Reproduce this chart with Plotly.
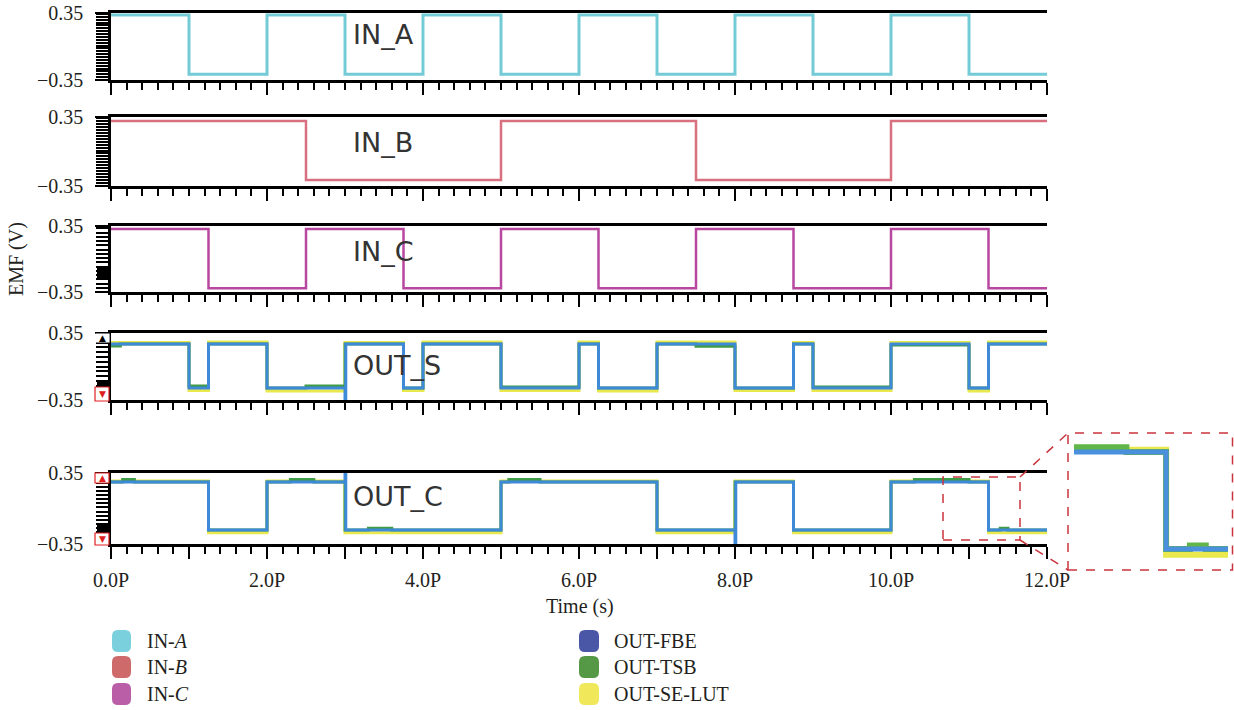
import plotly.graph_objects as go

W, H = 1234, 710

# ---------------- data (time in P units, voltage in V) ----------------
time_ticks = [0, 1, 2, 3, 4, 5, 6, 7, 8, 9, 10, 11, 12]
time_labels = ["0.0P", "", "2.0P", "", "4.0P", "", "6.0P", "", "8.0P", "", "10.0P", "", "12.0P"]

in_a_t = [0, 1, 2, 3, 4, 5, 6, 7, 8, 9, 10, 11, 12]
in_a_v = [0.33, -0.29, 0.33, -0.29, 0.33, -0.29, 0.33, -0.29, 0.33, -0.29, 0.33, -0.29]

in_b_t = [0, 2.5, 5, 7.5, 10, 12]
in_b_v = [0.31, -0.29, 0.31, -0.29, 0.31]

in_c_t = [0, 1.25, 2.5, 3.75, 5, 6.25, 7.5, 8.75, 10, 11.25, 12]
in_c_v = [0.318, -0.31, 0.318, -0.31, 0.318, -0.31, 0.318, -0.31, 0.318, -0.31]

# OUT_S
sum_lut_t = [0, 1, 1.25, 2, 3, 3.75, 4, 5, 6, 6.25, 7, 8, 8.75, 9, 10, 11, 11.25, 12]
sum_lut_v = [0.25, -0.25, 0.255, -0.255, 0.25, -0.25, 0.256, -0.25, 0.256, -0.256, 0.256, -0.25,
             0.25, -0.25, 0.25, -0.256, 0.256]
sum_tsb_t = [0, 0.12, 1, 1.25, 2, 2.5, 3, 3.75, 4, 5, 6, 6.25, 7, 7.5, 8, 8.75, 9, 10, 11, 11.25, 12]
sum_tsb_v = [0.215, 0.235, -0.205, 0.235, -0.225, -0.205, 0.235, -0.225, 0.235, -0.215, 0.235,
             -0.225, 0.235, 0.212, -0.225, 0.235, -0.215, 0.225, -0.225, 0.235]
sum_fbe_t = [0, 1, 1.25, 2, 3, 3.01, 3.75, 4, 5, 6, 6.25, 7, 8, 8.75, 9, 10, 11, 11.25, 12]
sum_fbe_v = [0.235, -0.225, 0.235, -0.225, -0.35, 0.235, -0.225, 0.235, -0.225, 0.235, -0.225,
             0.235, -0.225, 0.235, -0.225, 0.235, -0.225, 0.235]

# OUT_C
car_lut_t = [0, 1.25, 2, 3, 5, 7, 8, 8.75, 10, 11.25, 12]
car_lut_v = [0.272, -0.24, 0.272, -0.24, 0.272, -0.24, 0.272, -0.24, 0.272, -0.24]
car_tsb_t = [0, 0.15, 0.3, 1.25, 2, 2.3, 2.6, 3, 3.3, 3.6, 5, 5.1, 5.5, 7, 8, 8.75, 10, 10.3,
             11.0, 11.25, 11.4, 11.5, 12]
car_tsb_v = [0.261, 0.285, 0.261, -0.212, 0.261, 0.285, 0.261, -0.212, -0.195, -0.212, 0.261,
             0.285, 0.261, -0.212, 0.261, -0.212, 0.261, 0.285, 0.261, -0.212, -0.195, -0.212]
car_fbe_t = [0, 1.25, 2, 3, 3.01, 5, 7, 8, 8.01, 8.75, 10, 11.25, 12]
car_fbe_v = [0.261, -0.212, 0.261, 0.35, -0.212, 0.261, -0.212, -0.35, 0.261, -0.212, 0.261, -0.212]

panel_names = ["IN_A", "IN_B", "IN_C", "OUT_S", "OUT_C"]
legend_left = ["IN-<i>A</i>", "IN-<i>B</i>", "IN-<i>C</i>"]
legend_right = ["OUT-FBE", "OUT-TSB", "OUT-SE-LUT"]

# ---------------- styles ----------------
C_A, C_B, C_C = "#74cbd8", "#d8707f", "#b8479f"
C_FBE, C_TSB, C_LUT = "#3f8ad8", "#3f9b45", "#e9e84c"
LEG_LEFT_COL = ["#7ad0dc", "#cf6a6a", "#b95ea7"]
LEG_RIGHT_COL = ["#4a56a6", "#559845", "#f0e85a"]
SERIF = "Liberation Serif"
TXT = "#231f20"


def px(x):
    return x / W


def py(y):
    return 1 - y / H


def step(t, v):
    return list(t), list(v) + [v[-1]]


fig = go.Figure()

panels_px = [(13, 80), (117, 186), (226, 292), (333, 400), (473, 544)]
minor_dt = [0.03, 0.03, 0.045, 0.05, 0.04]


def add(t, v, color, width, idx, name):
    x, y = step(t, v)
    fig.add_trace(go.Scatter(x=x, y=y, mode="lines", line=dict(color=color, width=width, shape="hv"),
                             xaxis="x" if idx == 1 else f"x{idx}", yaxis="y" if idx == 1 else f"y{idx}",
                             showlegend=False, name=name, hoverinfo="skip"))


add(in_a_t, in_a_v, C_A, 3, 1, "IN-A")
add(in_b_t, in_b_v, C_B, 2.5, 2, "IN-B")
add(in_c_t, in_c_v, C_C, 2.5, 3, "IN-C")
add(sum_lut_t, sum_lut_v, C_LUT, 3, 4, "OUT-SE-LUT")
add(sum_tsb_t, sum_tsb_v, C_TSB, 3, 4, "OUT-TSB")
add(sum_fbe_t, sum_fbe_v, C_FBE, 3, 4, "OUT-FBE")
add(car_lut_t, car_lut_v, C_LUT, 3, 5, "OUT-SE-LUT")
add(car_tsb_t, car_tsb_v, C_TSB, 3, 5, "OUT-TSB")
add(car_fbe_t, car_fbe_v, C_FBE, 3, 5, "OUT-FBE")
# inset (zoom of OUT_C)
add(car_lut_t, car_lut_v, C_LUT, 6, 6, "OUT-SE-LUT")
add(car_tsb_t, car_tsb_v, "#62b548", 6, 6, "OUT-TSB")
add(car_fbe_t, car_fbe_v, "#4a90dc", 5, 6, "OUT-FBE")

layout = dict(width=W, height=H, autosize=False, margin=dict(l=0, r=0, t=0, b=0),
              paper_bgcolor="white", plot_bgcolor="white", showlegend=False)

for i, (top, bot) in enumerate(panels_px, start=1):
    xk = "xaxis" if i == 1 else f"xaxis{i}"
    yk = "yaxis" if i == 1 else f"yaxis{i}"
    layout[xk] = dict(domain=[px(111), px(1047)], anchor="y" if i == 1 else f"y{i}",
                      range=[0, 12], showgrid=False, zeroline=False, automargin=False,
                      showline=True, linecolor="black", linewidth=2.5, mirror=True,
                      tickmode="array", tickvals=time_ticks, ticktext=time_labels,
                      ticks="outside", ticklen=12, tickwidth=2, tickcolor="black",
                      showticklabels=(i == 5), ticklabelstandoff=4,
                      tickfont=dict(family=SERIF, size=20, color=TXT),
                      minor=dict(dtick=0.2, tick0=0, ticks="outside", ticklen=7, tickwidth=1.5,
                                 tickcolor="black"))
    layout[yk] = dict(domain=[py(bot), py(top)], anchor="x" if i == 1 else f"x{i}",
                      range=[-0.35, 0.35], showgrid=False, zeroline=False, automargin=False,
                      showline=True, linecolor="black", linewidth=2.5,
                      tickmode="array", tickvals=[-0.35, 0.35], ticktext=["\u22120.35", "0.35"],
                      ticks="outside", ticklen=13, tickwidth=2, tickcolor="black",
                      ticklabelstandoff=8,
                      tickfont=dict(family=SERIF, size=20, color=TXT),
                      minor=dict(dtick=minor_dt[i - 1], tick0=-0.35, ticks="outside", ticklen=12,
                                 tickwidth=1.5, tickcolor="black"))

layout["xaxis6"] = dict(domain=[px(1074), px(1228)], anchor="y6", range=[10.67, 11.64], visible=False,
                        automargin=False)
layout["yaxis6"] = dict(domain=[py(570), py(433)], anchor="x6", range=[-0.314, 0.354], visible=False,
                        automargin=False)

annotations = []
label_y = [34.5, 143, 252, 365, 497]
for name, yy in zip(panel_names, label_y):
    annotations.append(dict(text=name, x=px(351), y=py(yy), xref="paper", yref="paper",
                            xanchor="left", yanchor="middle", showarrow=False,
                            font=dict(family="DejaVu Sans", size=27, color="#333333")))
annotations.append(dict(text="EMF (V)", x=px(17), y=py(259), xref="paper", yref="paper",
                        textangle=-90, showarrow=False, xanchor="center", yanchor="middle",
                        font=dict(family=SERIF, size=20, color=TXT)))
annotations.append(dict(text="Time (s)", x=px(580), y=py(606), xref="paper", yref="paper",
                        showarrow=False, xanchor="center", yanchor="middle",
                        font=dict(family=SERIF, size=20, color=TXT)))

shapes = []


def rrect(x0, y0, x1, y1, r):
    pts = lambda a, b: f"{px(a):.5f},{py(b):.5f}"
    return (f"M {pts(x0 + r, y0)} L {pts(x1 - r, y0)} Q {pts(x1, y0)} {pts(x1, y0 + r)} "
            f"L {pts(x1, y1 - r)} Q {pts(x1, y1)} {pts(x1 - r, y1)} L {pts(x0 + r, y1)} "
            f"Q {pts(x0, y1)} {pts(x0, y1 - r)} L {pts(x0, y0 + r)} Q {pts(x0, y0)} {pts(x0 + r, y0)} Z")


rows = [641, 667, 694]
for j, yy in enumerate(rows):
    shapes.append(dict(type="path", xref="paper", yref="paper", path=rrect(112, yy - 11, 131, yy + 11, 6),
                       fillcolor=LEG_LEFT_COL[j], line=dict(width=0)))
    annotations.append(dict(text=legend_left[j], x=px(145), y=py(yy), xref="paper", yref="paper",
                            xanchor="left", yanchor="middle", showarrow=False,
                            font=dict(family=SERIF, size=20, color=TXT)))
    shapes.append(dict(type="path", xref="paper", yref="paper", path=rrect(579, yy - 11, 599, yy + 11, 6),
                       fillcolor=LEG_RIGHT_COL[j], line=dict(width=0)))
    annotations.append(dict(text=legend_right[j], x=px(612), y=py(yy), xref="paper", yref="paper",
                            xanchor="left", yanchor="middle", showarrow=False,
                            font=dict(family=SERIF, size=20, color=TXT)))

# zoom box, inset frame and connectors
RED = "#c9343d"
dash = dict(color=RED, width=1.5, dash="dash")
shapes.append(dict(type="rect", xref="paper", yref="paper", x0=px(943), x1=px(1020), y0=py(540), y1=py(477),
                   line=dash))
shapes.append(dict(type="rect", xref="paper", yref="paper", x0=px(1068), x1=px(1232.5), y0=py(570), y1=py(433),
                   line=dash))
shapes.append(dict(type="line", xref="paper", yref="paper", x0=px(1020), y0=py(477), x1=px(1068), y1=py(433),
                   line=dash))
shapes.append(dict(type="line", xref="paper", yref="paper", x0=px(1020), y0=py(540), x1=px(1068), y1=py(570),
                   line=dash))

# dense tick blocks on some y axes
for (yt, yb) in [(268, 280), (380, 386), (525, 531)]:
    shapes.append(dict(type="rect", xref="paper", yref="paper", x0=px(97), x1=px(110), y0=py(yb), y1=py(yt),
                       fillcolor="black", line=dict(width=0)))

# scroll markers on output panels
for (x0, y0, x1, y1, sym, col, box) in [(96, 334, 109, 342, "\u25b2", "black", False),
                                         (95, 387, 109, 401, "\u25bc", "#e02020", True),
                                         (95, 473, 109, 483, "\u25b2", "#e02020", True),
                                         (95, 533, 109, 545, "\u25bc", "#e02020", True)]:
    shapes.append(dict(type="rect", xref="paper", yref="paper", x0=px(x0), x1=px(x1), y0=py(y1), y1=py(y0),
                       fillcolor="white", line=dict(color="#e02020" if box else "white", width=1.2)))
    annotations.append(dict(text=sym, x=px((x0 + x1) / 2), y=py((y0 + y1) / 2), xref="paper", yref="paper",
                            showarrow=False, xanchor="center", yanchor="middle",
                            font=dict(family="DejaVu Sans", size=9, color=col)))

layout["annotations"] = annotations
layout["shapes"] = shapes
fig.update_layout(**layout)
fig.write_html("out.html")
